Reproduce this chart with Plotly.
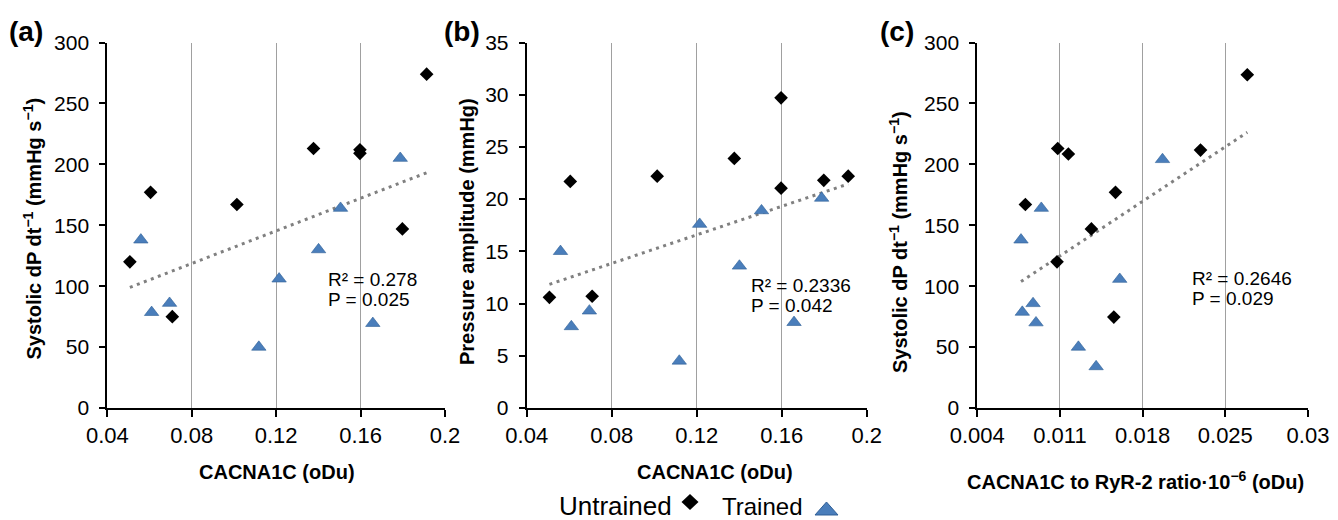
import numpy as np
import plotly.graph_objects as go

# ---------------- data ----------------
# Panels (a) & (b): CACNA1C (oDu)
cacna1c_untrained = [0.0507, 0.0605, 0.0708, 0.1014, 0.1377, 0.1597, 0.1597, 0.1798, 0.1913]
sys_untrained_a = [120, 177, 75, 167, 213, 212, 209, 147, 274]
pamp_untrained_b = [10.6, 21.7, 10.7, 22.2, 23.9, 21.05, 29.7, 21.8, 22.2]

cacna1c_trained = [0.0559, 0.0610, 0.0695, 0.1118, 0.1214, 0.1401, 0.1505, 0.1658, 0.1788]
sys_trained_a = [138, 78.5, 86, 50, 106, 130, 164, 69.5, 205]
pamp_trained_b = [15.0, 7.8, 9.3, 4.5, 17.6, 13.6, 18.9, 8.2, 20.1]

# Panel (c): CACNA1C to RyR-2 ratio
ratio_untrained = [0.00807, 0.01081, 0.01171, 0.01075, 0.01366, 0.0157, 0.01556, 0.0229, 0.02686]
sys_untrained_c = [167, 213, 208.5, 120, 147, 177, 74.6, 211.7, 273.5]
ratio_trained = [0.0077, 0.00781, 0.00872, 0.00897, 0.00942, 0.01256, 0.01406, 0.01606, 0.01968]
sys_trained_c = [138, 78.7, 85.8, 70, 164, 50, 34, 105.7, 204]

stats_a = ["R² = 0.278", "P = 0.025"]
stats_b = ["R² = 0.2336", "P = 0.042"]
stats_c = ["R² = 0.2646", "P = 0.029"]

xticks_ab = [0.04, 0.08, 0.12, 0.16, 0.2]
xticklabels_ab = ["0.04", "0.08", "0.12", "0.16", "0.2"]
xticks_c = [0.004, 0.011, 0.018, 0.025, 0.032]
xticklabels_c = ["0.004", "0.011", "0.018", "0.025", "0.03"]

# ---------------- style ----------------
FONT = "Arial, Liberation Sans, sans-serif"
OFF = 8  # default page body margin
W, H = 1338 - OFF, 520 - OFF
BLACK = "#000000"
BLUE = "#4A7EBB"
BLUE_EDGE = "#2F5F96"
GRID = "#A0A0A0"
TREND = "#808080"


def px(x):
    return (x - OFF) / W


def py(y):
    return 1 - (y - OFF) / H


fig = go.Figure()

panels = [
    dict(xu=cacna1c_untrained, yu=sys_untrained_a, xt=cacna1c_trained, yt=sys_trained_a,
         dom=(107.3, 445.0), yr=(0, 300), dy=50, xr=(0.04, 0.2), xt_v=xticks_ab, xt_t=xticklabels_ab),
    dict(xu=cacna1c_untrained, yu=pamp_untrained_b, xt=cacna1c_trained, yt=pamp_trained_b,
         dom=(526.7, 866.7), yr=(0, 35), dy=5, xr=(0.04, 0.2), xt_v=xticks_ab, xt_t=xticklabels_ab),
    dict(xu=ratio_untrained, yu=sys_untrained_c, xt=ratio_trained, yt=sys_trained_c,
         dom=(977.3, 1308.0), yr=(0, 300), dy=50, xr=(0.004, 0.032), xt_v=xticks_c, xt_t=xticklabels_c),
]

ydom = [py(408.0), py(42.5)]

for i, p in enumerate(panels, start=1):
    xa = "x" if i == 1 else f"x{i}"
    ya = "y" if i == 1 else f"y{i}"
    # trendline (least squares over all points)
    allx = np.array(p["xu"] + p["xt"])
    ally = np.array(p["yu"] + p["yt"])
    k, b = np.polyfit(allx, ally, 1)
    tx = np.array([allx.min(), allx.max()])
    fig.add_trace(go.Scatter(x=tx, y=k * tx + b, mode="lines", xaxis=xa, yaxis=ya,
                             line=dict(color=TREND, width=3, dash="3px,4.5px"),
                             showlegend=False, hoverinfo="skip"))
    fig.add_trace(go.Scatter(x=p["xu"], y=p["yu"], mode="markers", xaxis=xa, yaxis=ya,
                             marker=dict(symbol="diamond", size=10.5, color=BLACK, line=dict(width=0)),
                             showlegend=False, name="Untrained"))
    fig.add_trace(go.Scatter(x=p["xt"], y=p["yt"], mode="markers", xaxis=xa, yaxis=ya,
                             marker=dict(symbol="triangle-up", size=12.5, color=BLUE,
                                         line=dict(width=0.6, color=BLUE_EDGE)),
                             showlegend=False, name="Trained"))
    xkey = "xaxis" if i == 1 else f"xaxis{i}"
    ykey = "yaxis" if i == 1 else f"yaxis{i}"
    fig.update_layout(**{
        xkey: dict(domain=[px(p["dom"][0]), px(p["dom"][1])], range=list(p["xr"]),
                   anchor=ya, tickvals=p["xt_v"], ticktext=p["xt_t"],
                   showgrid=True, gridcolor=GRID, gridwidth=1,
                   showline=True, linecolor=BLACK, linewidth=2,
                   ticks="outside", ticklen=7, tickwidth=2, tickcolor=BLACK,
                   tickfont=dict(family=FONT, size=22, color=BLACK),
                   zeroline=False, fixedrange=True, automargin=False),
        ykey: dict(domain=ydom, range=list(p["yr"]), dtick=p["dy"], anchor=xa,
                   showgrid=False, showline=True, linecolor=BLACK, linewidth=2,
                   ticks="outside", ticklen=6, tickwidth=2, tickcolor=BLACK,
                   ticklabelstandoff=6,
                   tickfont=dict(family=FONT, size=21, color=BLACK),
                   zeroline=False, fixedrange=True, automargin=False),
    })

ann = []


def add_text(text, x, y, size, xanchor="center", angle=0, family=FONT, color=BLACK):
    ann.append(dict(text=text, x=px(x), y=py(y), xref="paper", yref="paper",
                    xanchor=xanchor, yanchor="middle", textangle=angle, showarrow=False,
                    font=dict(family=family, size=size, color=color)))


# panel letters
for lab, x in [("(a)", 26), ("(b)", 462), ("(c)", 897)]:
    add_text(f"<b>{lab}</b>", x, 31, 28)
# y titles
ytitle_sys = "<b>Systolic dP dt<sup>−1</sup> (mmHg s<sup>−1</sup>)</b>"
for txt, x, y in [(ytitle_sys, 32, 228.5), ("<b>Pressure amplitude (mmHg)</b>", 467, 232),
                  (ytitle_sys, 898, 242)]:
    add_text(txt, x, y, 20, angle=-90)
# x titles
for txt, x, y in [("<b>CACNA1C (oDu)</b>", 277, 472), ("<b>CACNA1C (oDu)</b>", 715, 472),
                  ("<b>CACNA1C to RyR-2 ratio·10<sup>−6</sup> (oDu)</b>", 1135, 480)]:
    add_text(txt, x, y, 20)
# stats
for stats, x, y1, y2 in [(stats_a, 326, 279, 299), (stats_b, 749, 285, 305), (stats_c, 1190, 278.5, 298.5)]:
    for s, y in zip(stats, (y1, y2)):
        add_text(s, x, y, 19, xanchor="left")
# legend (text, then key)
add_text("Untrained", 674, 506, 26, xanchor="right")
add_text("Trained", 720, 506, 24, xanchor="left")


def key_path(points):
    pts = [f"{px(x):.5f},{py(y):.5f}" for x, y in points]
    return "M " + " L ".join(pts) + " Z"


shapes = [
    dict(type="path", xref="paper", yref="paper", fillcolor=BLACK, line=dict(width=0),
         path=key_path([(690, 494), (698.5, 502), (690, 510), (681.5, 502)])),
    dict(type="path", xref="paper", yref="paper", fillcolor=BLUE, line=dict(width=1, color=BLUE_EDGE),
         path=key_path([(815, 515), (838, 515), (826.5, 502)])),
]

fig.update_layout(template="none", width=W, height=H, margin=dict(l=0, r=0, t=0, b=0, autoexpand=False),
                  paper_bgcolor="white", plot_bgcolor="white", annotations=ann, shapes=shapes,
                  showlegend=False)

fig.write_html("out.html")
